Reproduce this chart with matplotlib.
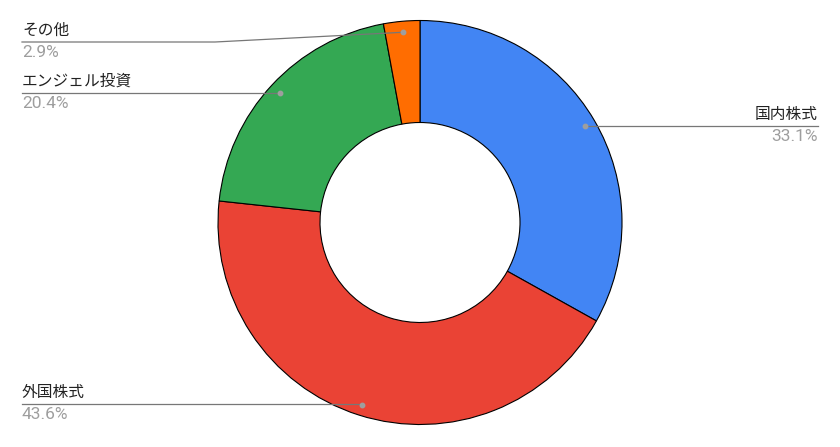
import matplotlib.pyplot as plt
import numpy as np

labels = ['国内株式', '外国株式', 'エンジェル投資', 'その他']
values = [33.1, 43.6, 20.4, 2.9]
colors = ['#4285F4', '#EA4335', '#34A853', '#FF6D01']

# label layout in pixels (y from top): line y, text end x, elbow x, side
line_y = [126, 404, 93, 42]
text_x = [818, 22, 22, 22]
elbow_x = [None, None, None, 215]
side = ['right', 'left', 'left', 'left']

W, H = 840, 447
cx, cy, R = 420, 222.5, 202

def py(y):
    return H - y

fig = plt.figure(figsize=(8.4, 4.47), dpi=100)
ax = fig.add_axes([0, 0, 1, 1])
ax.pie(values, colors=colors, startangle=90, counterclock=False,
       radius=R, center=(cx, py(cy)),
       wedgeprops=dict(width=102, edgecolor='black', linewidth=0.8))
ax.set_xlim(0, W)
ax.set_ylim(0, H)
ax.set_aspect('equal')
ax.axis('off')

total = sum(values)
cum = 0
for i, v in enumerate(values):
    ang = np.deg2rad(90 - 360 * (cum + v / 2) / total)
    cum += v
    dx = cx + 191 * np.cos(ang)
    dy = py(cy) + 191 * np.sin(ang)
    ly = py(line_y[i])
    ex = elbow_x[i] if elbow_x[i] is not None else dx
    ax.plot([dx, ex, text_x[i]], [dy, ly, ly], color='#777777', lw=0.9, zorder=3)
    ax.plot(dx, dy, 'o', color='#9e9e9e', ms=3.2, zorder=4)
    ha = 'right' if side[i] == 'right' else 'left'
    ax.text(text_x[i], ly + 3, labels[i], ha=ha, va='bottom', fontsize=11.3,
            color='#222222', family=['Noto Sans CJK JP', 'DejaVu Sans'])
    ax.text(text_x[i], ly - 3, '%.1f%%' % (100 * v / total), ha=ha, va='top',
            fontsize=12.5, color='#9e9e9e', family=['Roboto', 'DejaVu Sans'])

fig.savefig('out.png', dpi=100)
